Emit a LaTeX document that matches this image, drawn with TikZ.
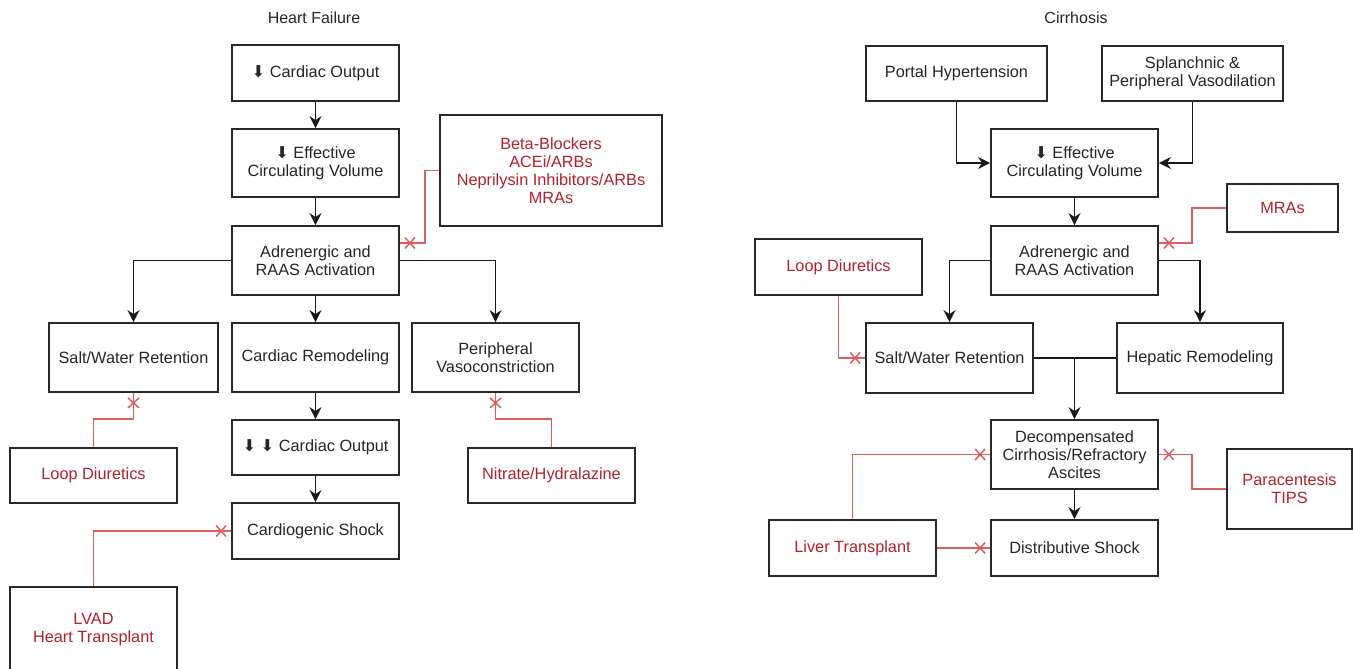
\documentclass[tikz,border=0pt]{standalone}
\usepackage{fontspec}
\setmainfont{Liberation Sans}
\newfontfamily\symfont{DejaVu Sans}
\usetikzlibrary{arrows.meta,calc,decorations.markings}
\definecolor{txtred}{RGB}{178,34,45}
\definecolor{linered}{RGB}{220,95,95}
\definecolor{boxgray}{RGB}{40,40,40}
\newcommand{\dnarr}{{\symfont ⬇}}
\begin{document}
\begin{tikzpicture}[x=1pt,y=-1pt,
  font=\fontsize{16.3}{18}\selectfont,
  wh/.style 2 args={minimum width=#1pt,minimum height=#2pt},
  box/.style={draw=boxgray,line width=1.8pt,rectangle,inner sep=0pt,align=center,text=black!85},
  rbox/.style={box,text=txtred},
  flow/.style={draw=black!90,line width=1.7pt,-{Stealth[length=12pt,width=12pt,inset=4pt]}},
  plain/.style={draw=black!90,line width=1.7pt},
  block/.style={draw=linered,line width=1.5pt,postaction={decorate},
    decoration={markings,mark=at position -10pt with {\draw[linered,line width=1.5pt] (-5pt,-5.5pt)--(5pt,5.5pt) (-5pt,5.5pt)--(5pt,-5.5pt);}}},
  ttl/.style={font=\fontsize{16}{18}\selectfont,text=black!85}
]
\useasboundingbox (0,0) rectangle (1353,669);
\fill[white] (0,0) rectangle (1353,669);

% ---------- Heart Failure ----------
\node[ttl] (hft) at (314,18) {Heart Failure};
\node[box,wh={167}{56}] (hfco) at (315.5,73) {\dnarr\ Cardiac Output};
\node[box,wh={167}{68}] (hfecv) at (315.5,163) {\dnarr\ Effective\\Circulating Volume};
\node[rbox,wh={222}{111}] (hfdrug) at (551,170.5) {Beta-Blockers\\ACEi/ARBs\\Neprilysin Inhibitors/ARBs\\MRAs};
\node[box,wh={167}{69}] (hfadr) at (315.5,260.5) {Adrenergic and\\RAAS Activation};
\node[box,wh={169}{69}] (hfsalt) at (133.5,357.5) {Salt/Water Retention};
\node[box,wh={167}{69}] (hfrem) at (315.5,357.5) {Cardiac Remodeling};
\node[box,wh={167}{69}] (hfper) at (495.5,357.5) {Peripheral\\Vasoconstriction};
\node[rbox,wh={167}{55}] (hfloop) at (93.5,475.5) {Loop Diuretics};
\node[box,wh={167}{55}] (hfco2) at (315.5,447.5) {\dnarr\ \dnarr\ Cardiac Output};
\node[rbox,wh={167}{55}] (hfnit) at (551.5,475.5) {Nitrate/Hydralazine};
\node[box,wh={167}{56}] (hfshock) at (315.5,531) {Cardiogenic Shock};
\node[rbox,wh={167}{86}] (hflvad) at (93.5,630) {LVAD\\Heart Transplant};

\draw[flow] (hfco) -- (hfecv);
\draw[flow] (hfecv) -- (hfadr);
\draw[flow] (hfadr) -- (hfrem);
\draw[flow] (hfadr.west) -| (hfsalt.north);
\draw[flow] (hfadr.east) -| (hfper.north);
\draw[flow] (hfrem) -- (hfco2);
\draw[flow] (hfco2) -- (hfshock);

\draw[block] (hfdrug.west) -- ++(-14,0) |- ($(hfadr.east)+(0,-17.5)$);
\draw[block] (hfloop.north) -- ++(0,-28) -| (hfsalt.south);
\draw[block] (hfnit.north) -- ++(0,-28) -| (hfper.south);
\draw[block] (hflvad.north) |- (hfshock.west);

% ---------- Cirrhosis ----------
\node[ttl] (cit) at (1076,18) {Cirrhosis};
\node[box,wh={181}{55}] (cph) at (956.5,73.5) {Portal Hypertension};
\node[box,wh={181}{55}] (csv) at (1192.5,73.5) {Splanchnic \&\\Peripheral Vasodilation};
\node[box,wh={167}{68}] (cecv) at (1074.5,163) {\dnarr\ Effective\\Circulating Volume};
\node[rbox,wh={111}{48}] (cmra) at (1282.5,208) {MRAs};
\node[box,wh={167}{69}] (cadr) at (1074.5,260.5) {Adrenergic and\\RAAS Activation};
\node[rbox,wh={167}{56}] (cloop) at (838.5,267) {Loop Diuretics};
\node[box,wh={167}{70}] (csalt) at (949.5,358) {Salt/Water Retention};
\node[box,wh={166}{70}] (chep) at (1200,358) {Hepatic Remodeling};
\node[box,wh={167}{69}] (cdec) at (1074.5,454.5) {Decompensated\\Cirrhosis/Refractory\\Ascites};
\node[rbox,wh={125}{80}] (cpar) at (1289.5,489) {Paracentesis\\TIPS};
\node[rbox,wh={167}{56}] (cliver) at (852.5,548) {Liver Transplant};
\node[box,wh={167}{56}] (cdist) at (1074.5,548) {Distributive Shock};

\draw[flow] (cph.south) |- (cecv.west);
\draw[flow] (csv.south) |- (cecv.east);
\draw[flow] (cecv) -- (cadr);
\draw[flow] (cadr.west) -| (csalt.north);
\draw[flow] (cadr.east) -| (chep.north);
\draw[plain] (csalt.east) -- (chep.west);
\coordinate (cjoin) at (cdec.north |- csalt.east);
\draw[flow] (cjoin) -- (cdec.north);
\draw[flow] (cdec) -- (cdist);

\draw[block] (cmra.west) -- ++(-34,0) |- ($(cadr.east)+(0,-17.5)$);
\draw[block] (cloop.south) |- (csalt.west);
\draw[block] (cpar.west) -- ++(-34,0) |- (cdec.east);
\draw[block] (cliver.north) |- (cdec.west);
\draw[block] (cliver.east) -- (cdist.west);
\end{tikzpicture}
\end{document}
